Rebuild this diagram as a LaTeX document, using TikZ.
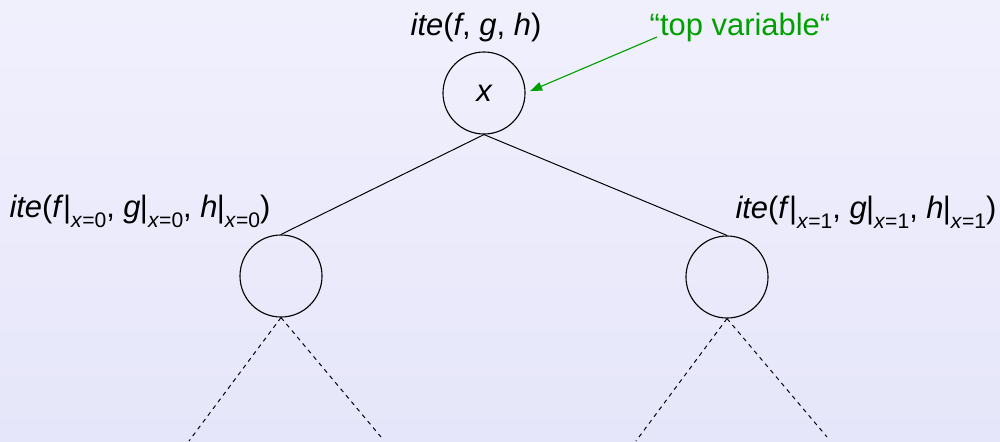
\documentclass[tikz,border=0pt]{standalone}
\usepackage{fontspec}
\setmainfont{Liberation Sans}
\usetikzlibrary{arrows.meta, positioning}
\definecolor{bgtop}{RGB}{240,240,253}
\definecolor{bgbot}{RGB}{230,230,250}
\definecolor{hintgreen}{RGB}{0,160,0}
\newcommand{\cofac}[2]{\textit{#1}\kern-0.5pt|\raisebox{-7.5pt}{\fontsize{15}{15}\selectfont\textit{x}=#2}}

\begin{document}
\begin{tikzpicture}[x=0.025cm, y=-0.025cm,
    var/.style={circle, draw, line width=0.8pt, minimum size=2.05cm, inner sep=0pt,
                font=\fontsize{22}{26}\selectfont\itshape},
    lbl/.style={font=\fontsize{22}{26}\selectfont, anchor=base},
    edge/.style={line width=0.7pt},
    sub/.style={line width=0.7pt, dashed},
    hint/.style={-{Triangle[length=3mm, width=2.2mm]}, hintgreen, line width=0.8pt}
  ]
    % Background
    \shade[top color=bgtop, bottom color=bgbot] (0,0) rectangle (1000,441);
    \useasboundingbox (0,0) rectangle (1000,441);

    % Nodes
    \node[var] (root) at (484,93) {x};
    \node[var] (lo) at (281,276) {};
    \node[var] (hi) at (727,277) {};

    % Labels
    \node[lbl] (rootlbl) at (476,35) {\textit{ite}(\textit{f}, \textit{g}, \textit{h})};
    \node[lbl] (lolbl) at (140,217) {\textit{ite}(\cofac{f}{0}, \cofac{g}{0}, \cofac{h}{0})};
    \node[lbl] (hilbl) at (866,218) {\textit{ite}(\cofac{f}{1}, \cofac{g}{1}, \cofac{h}{1})};
    \node[lbl, text=hintgreen] (toplbl) at (740,35) {“top variable“};

    % Edges
    \draw[edge] (root.south) -- (lo.north);
    \draw[edge] (root.south) -- (hi.north);

    % Subtrees
    \coordinate (lo0) at (189,441);
    \coordinate (lo1) at (381,437);
    \coordinate (hi0) at (636,441);
    \coordinate (hi1) at (827,437);
    \draw[sub] (lo.south) -- (lo0);
    \draw[sub] (lo.south) -- (lo1);
    \draw[sub] (hi.south) -- (hi0);
    \draw[sub] (hi.south) -- (hi1);

    % Hint arrow
    \coordinate (hintstart) at (657,37);
    \draw[hint, shorten >=3.5pt] (hintstart) -- (root.east);
\end{tikzpicture}
\end{document}
